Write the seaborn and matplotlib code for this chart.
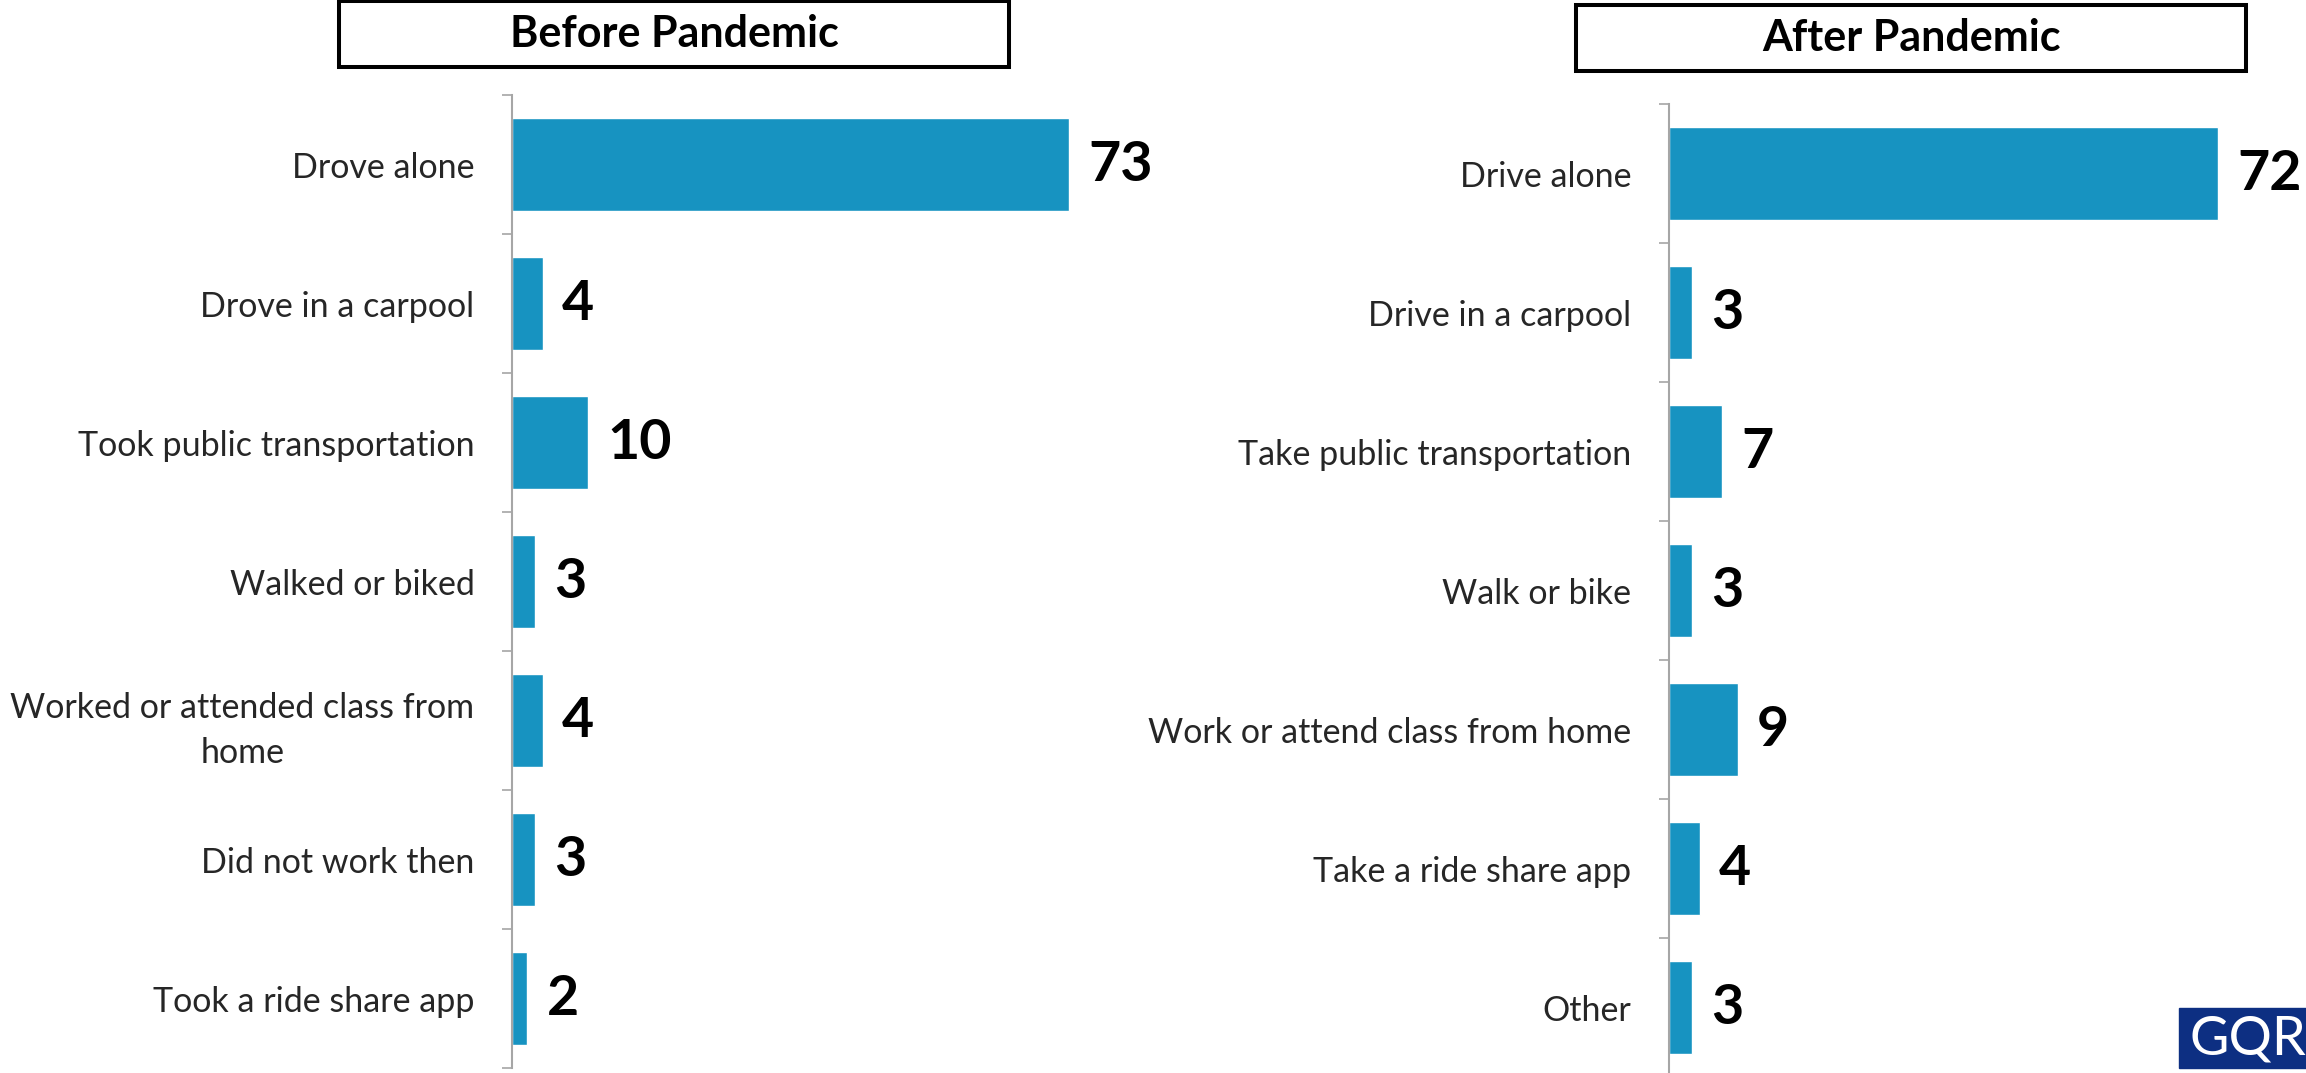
import pandas as pd
import matplotlib.pyplot as plt
import matplotlib.patches as mpatches
import seaborn as sns

# Commute mode shares (%)
before_labels = ["Drove alone", "Drove in a carpool", "Took public transportation",
                 "Walked or biked", "Worked or attended class from\nhome",
                 "Did not work then", "Took a ride share app"]
before_values = [73, 4, 10, 3, 4, 3, 2]

after_labels = ["Drive alone", "Drive in a carpool", "Take public transportation",
                "Walk or bike", "Work or attend class from home",
                "Take a ride share app", "Other"]
after_values = [72, 3, 7, 3, 9, 4, 3]

titles = ["Before Pandemic", "After Pandemic"]

BAR = "#1793C1"
W, H = 2306, 1073

sns.set_style("white")
plt.rcParams['font.family'] = ['Lato', 'DejaVu Sans']

fig = plt.figure(figsize=(W / 100, H / 100), dpi=100)


def px_box(x0, top, x1, bottom):
    return [x0 / W, 1 - bottom / H, (x1 - x0) / W, (bottom - top) / H]


def draw_panel(rect, xmax, labels, values):
    ax = fig.add_axes(rect)
    df = pd.DataFrame({"mode": labels, "pct": values})
    sns.barplot(data=df, x="pct", y="mode", orient="h", color=BAR,
                saturation=1, width=0.67, ax=ax)
    ax.set_xlim(0, xmax)
    ax.set_ylim(len(labels) - 0.5, -0.5)
    ax.set_xlabel("")
    ax.set_ylabel("")
    ax.set_xticks([])
    for s in ["top", "right", "bottom"]:
        ax.spines[s].set_visible(False)
    ax.spines["left"].set_color("#A6A6A6")
    ax.spines["left"].set_linewidth(1.5)
    ax.tick_params(axis="y", which="major", left=False, length=0, pad=27, labelsize=24.5)
    ax.set_yticks([i - 0.5 for i in range(len(labels) + 1)], minor=True)
    ax.tick_params(axis="y", which="minor", left=True, length=7.5, width=1.2,
                   color="#A6A6A6")
    for t in ax.get_yticklabels():
        t.set_multialignment("center")
        t.set_linespacing(1.5)
    ax.bar_label(ax.containers[0], fmt="%d", padding=14, fontsize=40,
                 fontweight="bold", color="black")
    ax.patch.set_alpha(0)
    return ax


draw_panel(px_box(512, 95, 1275, 1068), 100, before_labels, before_values)
draw_panel(px_box(1669, 104, 2306, 1077), 637 / 7.63, after_labels, after_values)

# title boxes
for (x0, y0, x1, y1), title in zip([(339, 1, 1009, 67), (1576, 5, 2246, 71)], titles):
    fig.patches.append(mpatches.Rectangle((x0 / W, 1 - y1 / H), (x1 - x0) / W, (y1 - y0) / H,
                                          transform=fig.transFigure, fill=False,
                                          edgecolor="black", linewidth=2.9))
    fig.text((x0 + x1) / 2 / W, 1 - (y0 + y1) / 2 / H, title, ha="center", va="center",
             fontsize=31, fontweight="bold", color="black")

# GQR logo
fig.patches.append(mpatches.Rectangle((2179 / W, 1 - 1068 / H), 140 / W, 60 / H,
                                      transform=fig.transFigure, color="#0D2F82", zorder=5))
fig.text(2190 / W, 1 - 1039 / H, "GQR", ha="left", va="center", fontsize=39,
         color="white", zorder=6)

fig.savefig("out.png", dpi=100)
